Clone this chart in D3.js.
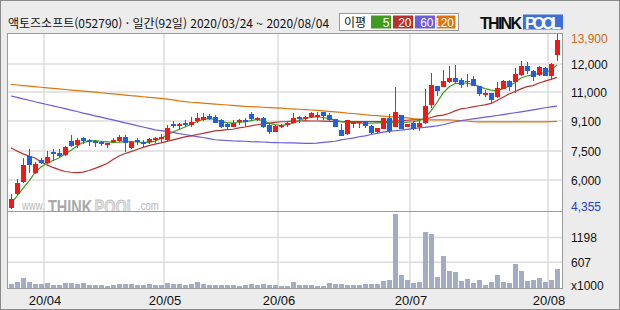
<!DOCTYPE html>
<html lang="ko">
<head>
    <meta charset="UTF-8">
    <title>액토즈소프트 일간 차트</title>
    <script src="https://cdnjs.cloudflare.com/ajax/libs/d3/7.8.5/d3.min.js"></script>
    <style>
        body { margin: 0; }
        #CHART text { font-family: "Liberation Sans", "Noto Sans CJK KR", sans-serif; font-size: 12px; }
        #CHART .kr { font-family: "Noto Sans CJK KR", sans-serif; }
    </style>
</head>
<body>
<svg id="CHART" width="620" height="310"></svg>
<script>
    // 거래일 (92일)
    var dates = [
        "2020/03/24","2020/03/25","2020/03/26","2020/03/27","2020/03/30","2020/03/31",
        "2020/04/01","2020/04/02","2020/04/03","2020/04/06","2020/04/07","2020/04/08","2020/04/09","2020/04/10",
        "2020/04/13","2020/04/14","2020/04/16","2020/04/17","2020/04/20","2020/04/21","2020/04/22","2020/04/23",
        "2020/04/24","2020/04/27","2020/04/28","2020/04/29",
        "2020/05/04","2020/05/06","2020/05/07","2020/05/08","2020/05/11","2020/05/12","2020/05/13","2020/05/14",
        "2020/05/15","2020/05/18","2020/05/19","2020/05/20","2020/05/21","2020/05/22","2020/05/25","2020/05/26",
        "2020/05/27","2020/05/28","2020/05/29",
        "2020/06/01","2020/06/02","2020/06/03","2020/06/04","2020/06/05","2020/06/08","2020/06/09","2020/06/10",
        "2020/06/11","2020/06/12","2020/06/15","2020/06/16","2020/06/17","2020/06/18","2020/06/19","2020/06/22",
        "2020/06/23","2020/06/24","2020/06/25","2020/06/26","2020/06/29","2020/06/30",
        "2020/07/01","2020/07/02","2020/07/03","2020/07/06","2020/07/07","2020/07/08","2020/07/09","2020/07/10",
        "2020/07/13","2020/07/14","2020/07/15","2020/07/16","2020/07/17","2020/07/20","2020/07/21","2020/07/22",
        "2020/07/23","2020/07/24","2020/07/27","2020/07/28","2020/07/29","2020/07/30","2020/07/31",
        "2020/08/03","2020/08/04"
    ];

    var opens = [4410,5210,5890,7240,6360,7030,6880,7450,7400,7290,
        8030,7820,8190,8090,8030,7980,7870,7980,8050,8260,
        7660,8090,8000,8000,8090,8120,8090,8920,8870,8980,
        8890,9100,9170,9450,9380,9170,8960,8800,9080,9170,
        9590,9210,9300,8890,8510,8780,8890,8980,9380,9210,
        9380,9430,9710,9490,9230,8620,8390,8940,9020,9030,
        8830,8530,8660,9280,8760,9490,8760,8980,8800,8980,
        10130,11200,11180,11360,11500,11440,11360,11460,11230,10870,
        10930,10670,11120,11380,11360,11620,11920,11760,11620,11860,
        11580,12740];
    var highs = [5200,6050,7140,7610,6930,7140,7500,7610,7610,7770,
        8350,8190,8250,8140,8090,8030,7940,8190,8350,8350,
        8030,8180,8090,8210,8260,8390,8910,9120,8980,9170,
        9360,9600,9600,9540,9490,9230,9020,9170,9210,9280,
        9670,9380,9380,8980,8890,8920,9100,9600,9430,9430,
        9710,9710,9710,9600,9230,8940,9170,9120,9100,9100,
        8890,8740,9280,9560,11170,9490,8940,9080,9080,11110,
        11680,11200,11800,11940,11980,11500,11640,11560,11230,11060,
        10930,11350,11440,11430,11860,12210,12160,11790,11920,11880,
        12080,14450];
    var lows = [4355,5150,5830,6360,6310,6830,6830,6980,7190,7240,
        7710,7660,7870,7770,7710,7770,7680,7930,8000,7450,
        7610,7820,7730,7860,7910,8000,8000,8710,8670,8800,
        8800,8990,9080,9170,8980,8710,8620,8760,8890,8780,
        9100,9100,8710,8390,8500,8710,8800,8980,8990,9120,
        9280,9170,9170,9060,8780,8320,8350,8710,8730,8740,
        8410,8410,8660,8480,8760,8660,8760,8620,8580,8940,
        9950,10760,11180,11320,11320,11140,11170,11200,10720,10670,
        10210,10610,11120,11020,10930,11580,11640,11380,11560,11560,
        11440,12210];
    var closes = [4920,5830,6780,6780,6830,6880,7190,7340,7240,7710,
        7770,8090,8030,7980,7930,7870,7910,8090,8260,7930,
        7990,7970,7870,8120,8180,8260,8750,8850,8920,8890,
        9060,9280,9380,9230,9020,8760,8780,9020,9150,9060,
        9200,9280,8760,8530,8830,8890,8990,9280,9230,9380,
        9600,9490,9430,9170,8800,8320,9170,9120,9100,8830,
        8440,8740,9280,8580,9670,8660,8920,8660,8980,10080,
        11240,11050,11400,11500,11360,11260,11400,11230,10890,10930,
        10460,11140,11400,11180,11640,11920,11760,11540,11880,11580,
        11990,13900];

    // 거래량 (천주)
    var volumes = [103,151,230,135,95,95,111,63,63,111,
        111,95,111,63,63,63,48,63,87,87,
        87,71,71,87,71,71,127,95,95,79,
        95,135,87,63,63,63,63,63,48,63,
        87,71,103,79,63,40,40,135,63,63,
        63,48,48,111,87,87,63,63,63,87,
        87,87,159,182,1752,301,182,119,135,1324,
        1277,262,753,397,373,159,206,111,182,63,
        135,301,135,111,563,397,159,182,230,135,
        182,444];

    // 이동평균
    var ma5 = [4670,5090,5520,5940,6390,6670,6850,7010,7140,7350,
        7540,7770,7950,8030,8050,8020,7990,7960,7970,8000,
        8000,7980,7960,7960,8030,8170,8350,8510,8650,8780,
        8910,9070,9200,9260,9200,9070,9010,8990,9020,9060,
        9130,9200,9120,8990,8910,8860,8910,8990,9130,9280,
        9330,9380,9330,9260,9170,9070,9030,9010,8990,8980,
        8980,9000,9010,9010,9010,9020,9040,9060,9120,9300,
        9760,10310,10930,11180,11300,11320,11320,11270,11200,11120,
        11070,11050,11120,11210,11340,11500,11570,11620,11660,11680,
        11790,11970];
    var ma20 = [7660,7500,7350,7240,7140,6930,6780,6650,6540,6440,
        6400,6380,6410,6490,6600,6720,6850,7060,7240,7370,
        7470,7580,7690,7790,7870,7930,8010,8090,8170,8250,
        8310,8380,8440,8510,8570,8600,8640,8660,8730,8780,
        8840,8900,8950,8990,9030,9060,9070,9090,9100,9110,
        9100,9100,9090,9080,9080,9070,9070,9070,9070,9070,
        9070,9070,9070,9080,9100,9130,9150,9170,9190,9220,
        9330,9430,9490,9590,9760,9900,9950,10030,10100,10160,
        10250,10440,10650,10870,11020,11110,11190,11230,11320,11390,
        11450,11520];
    var ma60 = [10740,10650,10550,10460,10360,10270,10180,10090,10000,9910,
        9810,9720,9620,9530,9440,9350,9260,9170,9080,9000,
        8930,8850,8780,8710,8630,8590,8550,8490,8430,8380,
        8320,8270,8220,8160,8100,8080,8060,8040,8030,8020,
        8000,7990,7980,7960,7950,7940,7930,7930,7920,7910,
        7910,7920,7960,7990,8020,8090,8140,8190,8260,8310,
        8380,8440,8510,8550,8580,8610,8650,8690,8730,8760,
        8800,8840,8900,8980,9060,9120,9180,9240,9290,9350,
        9400,9460,9520,9580,9640,9700,9760,9830,9900,9970,
        10020,10070];
    var ma120 = [11270,11250,11230,11210,11190,11170,11150,11130,11110,11090,
        11070,11050,11030,11010,10990,10950,10910,10880,10840,10800,
        10760,10730,10690,10650,10620,10580,10530,10480,10420,10370,
        10330,10300,10270,10240,10210,10180,10150,10120,10090,10060,
        10040,10020,10000,9980,9960,9940,9910,9890,9870,9850,
        9820,9790,9760,9730,9700,9660,9620,9590,9550,9510,
        9470,9450,9420,9390,9360,9340,9300,9260,9230,9200,
        9170,9170,9170,9170,9150,9130,9100,9070,9050,9050,
        9050,9050,9050,9050,9050,9050,9050,9050,9050,9050,
        9070,9080];

    // 축 눈금
    var priceTicks = [13900, 12000, 11000, 9100, 7500, 6000, 4355];
    var volumeTicks = [1198, 607];
    var monthLabels = ["20/04", "20/05", "20/06", "20/07", "20/08"];
    var maPeriods = ["5", "20", "60", "120"];
    var maColors = ["#3f9a20", "#b8302c", "#6a5cdc", "#e0740c"];

    var W = 620, H = 310;
    var L = 7, R = 562.5, T = 33, MID = 211.5, B = 288;

    var svg = d3.select("#CHART");

    var x = d3.scaleBand().domain(dates).range([8, 560]);
    var bw = x.bandwidth();
    // 썽크풀 차트의 가격축은 눈금 사이 간격이 고르지 않아 구간별 선형 스케일 사용
    var y = d3.scaleLinear()
        .domain(priceTicks.slice().sort(d3.ascending))
        .range([209, 180, 151, 121, 92, 64, 40]);
    var yv = d3.scaleLinear().domain([0, 1800]).range([B, 212]);

    var candles = dates.map(function(d, i){
        return {date: d, o: opens[i], h: highs[i], l: lows[i], c: closes[i], v: volumes[i]};
    });
    var monthStarts = dates.filter(function(d, i){
        return i > 0 && d.slice(5, 7) !== dates[i - 1].slice(5, 7);
    });

    // 배경
    svg.append("rect").attr("width", W).attr("height", H).attr("fill", "#ececec");
    svg.append("rect").attr("x", L).attr("y", T).attr("width", R - L).attr("height", B - T).attr("fill", "#fff");

    svg.append("defs").append("clipPath").attr("id", "priceClip")
        .append("rect").attr("x", L).attr("y", T).attr("width", R - L).attr("height", MID - T);

    // 그리드
    var grid = svg.append("g").attr("stroke", "#dcdcdc").attr("stroke-width", 1.5);
    grid.selectAll("line.h").data(priceTicks.slice(1, -1)).join("line")
        .attr("x1", L).attr("x2", R).attr("y1", function(d){ return y(d); }).attr("y2", function(d){ return y(d); });
    grid.selectAll("line.hv").data(volumeTicks).join("line")
        .attr("x1", L).attr("x2", R).attr("y1", function(d){ return yv(d); }).attr("y2", function(d){ return yv(d); });
    grid.selectAll("line.v").data(monthStarts).join("line")
        .attr("x1", function(d){ return x(d); }).attr("x2", function(d){ return x(d); })
        .attr("y1", T).attr("y2", B);

    var price = svg.append("g").attr("clip-path", "url(#priceClip)");

    // 워터마크: 세로로 늘린 글자 (자연 폭 그대로 써서 조각끼리 겹치지 않게)
    var wmParts = [
        {t: "www.", x: 22, y: 210, size: 9.5, sy: 1.35, bold: false, fill: "#b8b8b8"},
        {t: "THINK", x: 48, y: 214, size: 14.5, sy: 1.45, bold: true, fill: "#aaaaaa"},
        {t: "POOL", x: 94.5, y: 214, size: 14.5, sy: 1.45, bold: true, fill: "#e0e0e0", stroke: "#c4c4c4"},
        {t: ".com", x: 138, y: 210, size: 9.5, sy: 1.35, bold: false, fill: "#b8b8b8"}
    ];
    price.append("g").selectAll("text").data(wmParts).join("text")
        .attr("transform", function(d){ return "translate(" + d.x + "," + d.y + ") scale(1," + d.sy + ")"; })
        .attr("fill", function(d){ return d.fill; })
        .attr("stroke", function(d){ return d.stroke || null; })
        .attr("stroke-width", 0.6)
        .style("font-size", function(d){ return d.size + "px"; })
        .style("font-weight", function(d){ return d.bold ? "bold" : "normal"; })
        .text(function(d){ return d.t; });

    // 이동평균선
    var maSeries = [ma120, ma60, ma20, ma5];
    var maSeriesColors = [maColors[3], maColors[2], maColors[1], maColors[0]];
    var line = d3.line()
        .x(function(d, i){ return x(dates[i]) + bw / 2; })
        .y(function(d){ return y(d); });
    price.selectAll("path.ma").data(maSeries).join("path")
        .attr("class", "ma")
        .attr("fill", "none")
        .attr("stroke", function(d, i){ return maSeriesColors[i]; })
        .attr("stroke-width", 1.2)
        .attr("d", line);

    // 캔들
    var candleColor = function(d){ return d.c >= d.o ? "#f01818" : "#1f5fe0"; };
    var cg = price.append("g").attr("shape-rendering", "crispEdges");
    cg.selectAll("rect.wick").data(candles).join("rect")
        .attr("x", function(d){ return x(d.date) + bw / 2; })
        .attr("width", 1)
        .attr("y", function(d){ return y(d.h); })
        .attr("height", function(d){ return Math.max(1, y(d.l) - y(d.h)); })
        .attr("fill", candleColor);
    cg.selectAll("rect.body").data(candles).join("rect")
        .attr("x", function(d){ return x(d.date) + 1; })
        .attr("width", bw - 1)
        .attr("y", function(d){ return y(Math.max(d.o, d.c)); })
        .attr("height", function(d){ return Math.max(1.5, Math.abs(y(d.o) - y(d.c))); })
        .attr("fill", candleColor);

    // 거래량
    svg.append("g").attr("shape-rendering", "crispEdges")
        .selectAll("rect").data(candles).join("rect")
        .attr("x", function(d){ return x(d.date) + 1; })
        .attr("width", bw - 1)
        .attr("y", function(d){ return yv(d.v); })
        .attr("height", function(d){ return B - yv(d.v); })
        .attr("fill", "#a3acc6");

    // 테두리
    var frame = svg.append("g").attr("fill", "none").attr("stroke", "#9c9c9c").attr("shape-rendering", "crispEdges");
    frame.append("rect").attr("x", L).attr("y", T).attr("width", R - L).attr("height", B - T);
    frame.append("line").attr("x1", L).attr("x2", R).attr("y1", MID).attr("y2", MID);
    frame.append("rect").attr("x", 0.5).attr("y", 0.5).attr("width", W - 1).attr("height", H - 1).attr("stroke", "#8a8a8a");

    // 가격축 라벨 (최고가·최저가는 색으로 구분)
    var lastTick = priceTicks.length - 1;
    svg.append("g").selectAll("text").data(priceTicks).join("text")
        .attr("x", 571)
        .attr("y", function(d, i){
            if (i === 0) return y(d) - 1.5;
            if (i === lastTick) return Math.min(206.5, y(d));
            return y(d) + 1;
        })
        .attr("dominant-baseline", "central")
        .attr("fill", function(d, i){ return i === 0 ? "#d06a10" : (i === lastTick ? "#1c3fd6" : "#111"); })
        .text(function(d){ return d3.format(",")(d); });

    // 거래량 라벨
    svg.append("g").selectAll("text").data(volumeTicks).join("text")
        .attr("x", 571).attr("y", function(d){ return yv(d) + 1; })
        .attr("dominant-baseline", "central").attr("fill", "#111")
        .text(function(d){ return d; });
    svg.append("text").attr("x", 571).attr("y", 286).attr("dominant-baseline", "central").attr("fill", "#111").text("x1000");

    // 날짜 라벨
    svg.append("g").selectAll("text").data(monthStarts).join("text")
        .attr("x", function(d){ return x(d) + 1; })
        .attr("y", 300)
        .attr("text-anchor", "middle")
        .attr("dominant-baseline", "central")
        .attr("fill", "#111")
        .style("font-size", "13px")
        .text(function(d, i){ return monthLabels[i]; });

    // 제목
    svg.append("text").attr("class", "kr").attr("x", 8).attr("y", 28).attr("fill", "#111")
        .text("액토즈소프트(052790) · 일간(92일) " + dates[0] + " ~ " + dates[dates.length - 1]);

    // 이평 범례
    var lg = svg.append("g");
    lg.append("rect").attr("x", 339.5).attr("y", 13.5).attr("width", 119).attr("height", 17)
        .attr("fill", "#fff").attr("stroke", "#9a9a9a");
    lg.append("text").attr("class", "kr").attr("x", 344).attr("y", 26.5).attr("fill", "#111").text("이평");
    var boxX = [371, 393, 415, 436.5];
    var boxW = [20, 20, 20, 19];
    lg.selectAll("rect.box").data(maPeriods).join("rect")
        .attr("x", function(d, i){ return boxX[i]; }).attr("y", 15.5)
        .attr("width", function(d, i){ return boxW[i]; }).attr("height", 13)
        .attr("fill", function(d, i){ return maColors[i]; });
    lg.selectAll("text.box").data(maPeriods).join("text")
        .attr("x", function(d, i){ return boxX[i] + boxW[i] - 1.5; }).attr("y", 26.5)
        .attr("text-anchor", "end").attr("fill", "#fff")
        .text(function(d){ return d; });

    // 로고
    var logo = svg.append("g");
    logo.append("text").attr("x", 480).attr("y", 28.5).attr("fill", "#111")
        .attr("textLength", 42).style("font-size", "16px").style("font-weight", "bold").text("THINK");
    logo.append("rect").attr("x", 523).attr("y", 14.5).attr("width", 40).attr("height", 15).attr("fill", "#3d6fd9");
    logo.append("text").attr("x", 525).attr("y", 28.5).attr("fill", "#fff")
        .attr("textLength", 36).style("font-size", "16px").style("font-weight", "bold").text("POOL");
</script>
</body>
</html>
